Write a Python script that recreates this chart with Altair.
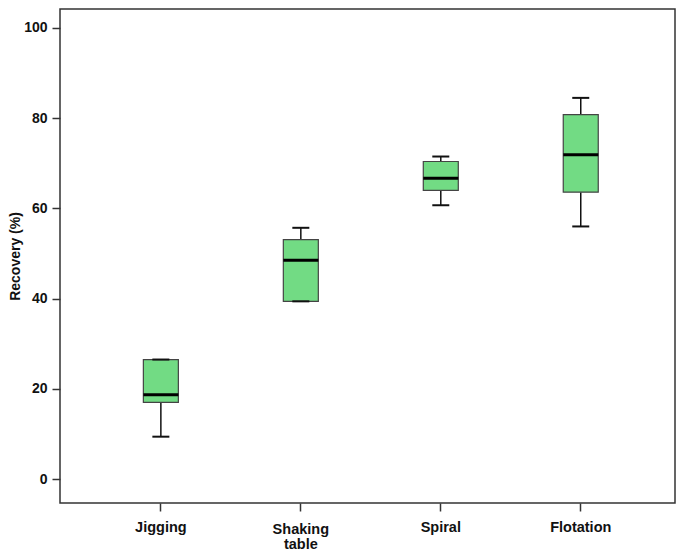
import altair as alt
import pandas as pd

methods = ["Jigging", "Shaking table", "Spiral", "Flotation"]
whisker_low = [9.4, 39.4, 60.7, 56.0]
q1 = [17.0, 39.4, 64.0, 63.6]
median = [18.7, 48.5, 66.7, 71.9]
q3 = [26.5, 53.1, 70.4, 80.8]
whisker_high = [26.5, 55.7, 71.5, 84.5]

df = pd.DataFrame({
    "method": methods,
    "lo": whisker_low,
    "q1": q1,
    "med": median,
    "q3": q3,
    "hi": whisker_high,
})

FONT = "Liberation Sans"

x_enc = alt.X(
    "method:N",
    sort=methods,
    scale=alt.Scale(paddingInner=0, paddingOuter=0.197, align=0.56),
    axis=alt.Axis(
        title=None,
        labelAngle=0,
        labelExpr="split(datum.label, ' ')",
        labelBaseline="top",
        labelLineHeight=15,
        labelPadding={"condition": {"test": "datum.value == 'Shaking table'", "value": 11}, "value": 9.5},
        labelFont=FONT,
        labelFontSize=14.5,
        labelFontWeight="bold",
        labelColor="#111111",
        domain=False,
        grid=False,
        tickSize=8,
        tickWidth=1.5,
        tickColor="#333333",
    ),
)

y_scale = alt.Scale(domain=[-5.3, 104.2], nice=False, zero=False)
y_axis = alt.Axis(
    title="Recovery (%)",
    values=[0, 20, 40, 60, 80, 100],
    titleFont=FONT,
    titleFontSize=14,
    titleFontWeight="bold",
    titleColor="#111111",
    titlePadding=1,
    labelFont=FONT,
    labelFontSize=14,
    labelFontWeight="bold",
    labelColor="#111111",
    labelPadding=5,
    domain=False,
    grid=False,
    tickSize=8,
    tickWidth=1.5,
    tickColor="#333333",
)

base = alt.Chart(df)

whisk_lo = base.mark_rule(color="#111111", strokeWidth=1.5).encode(
    x=x_enc,
    y=alt.Y("lo:Q", scale=y_scale, axis=y_axis),
    y2="q1:Q",
)
whisk_hi = base.mark_rule(color="#111111", strokeWidth=1.5).encode(
    x=x_enc, y=alt.Y("q3:Q", scale=y_scale, axis=y_axis), y2="hi:Q"
)
box = base.mark_bar(size=35, color="#72DB84", stroke="#444444", strokeWidth=1.2).encode(
    x=x_enc, y=alt.Y("q1:Q", scale=y_scale, axis=y_axis), y2="q3:Q"
)
cap_lo = base.mark_tick(size=17, thickness=2, color="#111111", opacity=1).encode(
    x=x_enc, y=alt.Y("lo:Q", scale=y_scale, axis=y_axis)
)
cap_hi = base.mark_tick(size=17, thickness=2, color="#111111", opacity=1).encode(
    x=x_enc, y=alt.Y("hi:Q", scale=y_scale, axis=y_axis)
)
med = base.mark_tick(size=35, thickness=3, color="#000000", opacity=1).encode(
    x=x_enc, y=alt.Y("med:Q", scale=y_scale, axis=y_axis)
)

chart = (
    alt.layer(whisk_lo, whisk_hi, box, cap_lo, cap_hi, med)
    .properties(
        width=615,
        height=494,
        autosize=alt.AutoSizeParams(type="none"),
        padding={"left": 52, "top": 1, "right": 2, "bottom": 48},
        background="white",
    )
    .configure_view(stroke="#333333", strokeWidth=1.5)
)

chart.save("out.html", embed_options={"renderer": "svg", "actions": False})
